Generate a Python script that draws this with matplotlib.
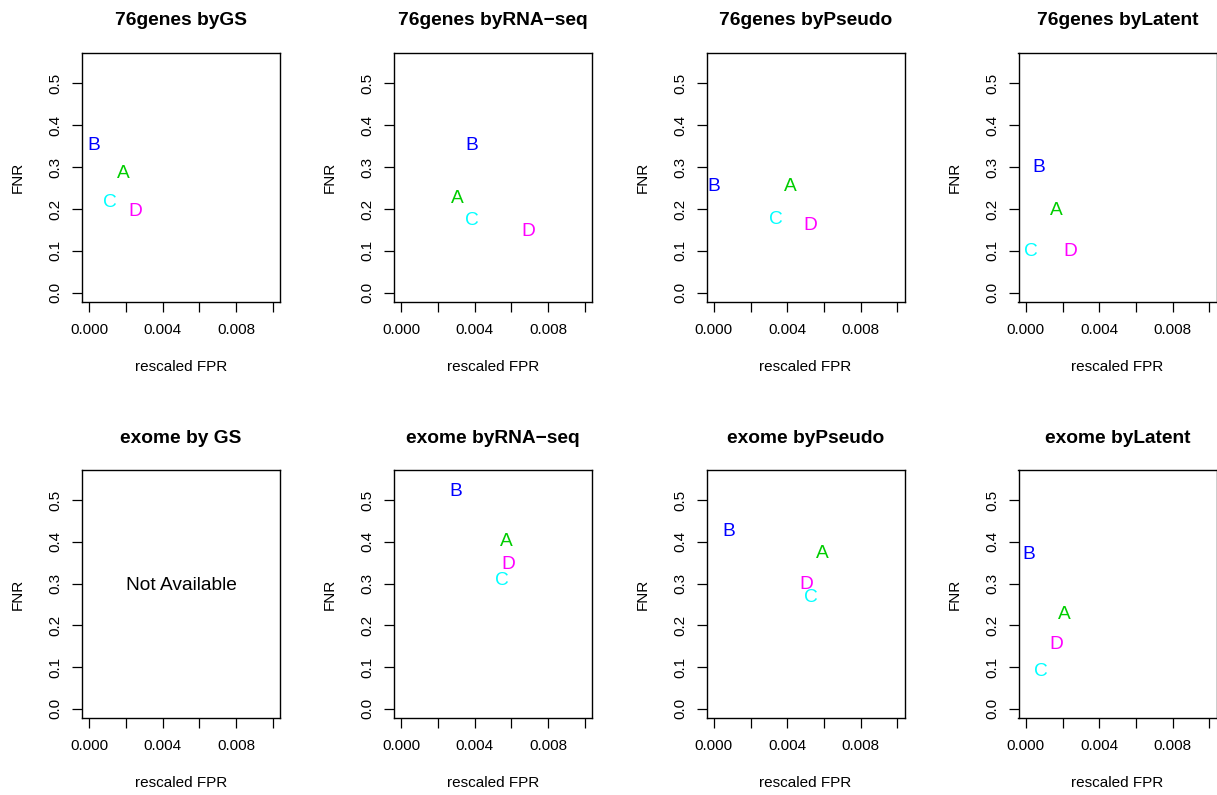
import matplotlib
matplotlib.use("Agg")
import matplotlib.pyplot as plt
import matplotlib.transforms as mtransforms

plt.rcParams['font.family'] = ['Liberation Sans', 'DejaVu Sans']

# ---- data ----
letters = ['A', 'B', 'C', 'D']
letter_colors = ['#00CD00', '#0000FF', '#00FFFF', '#FF00FF']

titles = ['76genes byGS', '76genes byRNA\u2212seq', '76genes byPseudo', '76genes byLatent',
          'exome by GS', 'exome byRNA\u2212seq', 'exome byPseudo', 'exome byLatent']

fpr_76_gs = [0.00185, 0.00022, 0.00114, 0.00250]
fnr_76_gs = [0.290, 0.358, 0.220, 0.200]
fpr_76_rna = [0.00308, 0.00385, 0.00384, 0.00694]
fnr_76_rna = [0.230, 0.357, 0.178, 0.153]
fpr_76_pseudo = [0.00420, 0.00000, 0.00340, 0.00525]
fnr_76_pseudo = [0.260, 0.260, 0.181, 0.166]
fpr_76_latent = [0.00164, 0.00071, 0.00029, 0.00242]
fnr_76_latent = [0.201, 0.305, 0.104, 0.104]
fpr_ex_gs = None
fnr_ex_gs = None
fpr_ex_rna = [0.00571, 0.00299, 0.00548, 0.00584]
fnr_ex_rna = [0.406, 0.526, 0.312, 0.352]
fpr_ex_pseudo = [0.00592, 0.00083, 0.00529, 0.00505]
fnr_ex_pseudo = [0.378, 0.430, 0.272, 0.304]
fpr_ex_latent = [0.00210, 0.00014, 0.00081, 0.00165]
fnr_ex_latent = [0.232, 0.376, 0.094, 0.160]

xs = [fpr_76_gs, fpr_76_rna, fpr_76_pseudo, fpr_76_latent,
      fpr_ex_gs, fpr_ex_rna, fpr_ex_pseudo, fpr_ex_latent]
ys = [fnr_76_gs, fnr_76_rna, fnr_76_pseudo, fnr_76_latent,
      fnr_ex_gs, fnr_ex_rna, fnr_ex_pseudo, fnr_ex_latent]

x_ticks = [0.000, 0.002, 0.004, 0.006, 0.008, 0.010]
x_ticklabels = ['0.000', '', '0.004', '', '0.008', '']
y_ticks = [0.0, 0.1, 0.2, 0.3, 0.4, 0.5]
y_ticklabels = ['0.0', '0.1', '0.2', '0.3', '0.4', '0.5']
na_text = 'Not Available'
na_pos = (0.005, 0.30)

# ---- layout ----
W, H = 1217, 795
fig = plt.figure(figsize=(W / 100, H / 100), dpi=100)

col_left = [82, 394, 706.5, 1018.5]
box_w = 198
row_top = [53, 470]
box_h = [249, 248]

FS = 11
LFS = 13.8
for i in range(8):
    r, c = divmod(i, 4)
    left = col_left[c] / W
    bottom = 1 - (row_top[r] + box_h[r]) / H
    ax = fig.add_axes([left, bottom, box_w / W, box_h[r] / H])
    ax.set_xlim(-0.0004, 0.0104)
    ax.set_ylim(-0.022, 0.572)
    ax.set_xticks(x_ticks)
    ax.set_xticklabels(x_ticklabels, fontsize=FS)
    ax.set_yticks(y_ticks)
    ax.set_yticklabels(y_ticklabels, fontsize=FS, rotation=90, va='center')
    ax.tick_params(direction='out', length=7, width=0.9, pad=8, colors='black')
    ax.tick_params(axis='y', pad=7)
    for s in ax.spines.values():
        s.set_linewidth(1.0)
    ax.set_title(titles[i], fontsize=13.8, fontweight='bold', pad=20.5 if r == 0 else 19.5)
    ax.set_xlabel('rescaled FPR', fontsize=FS, labelpad=17)
    ax.set_ylabel('FNR', fontsize=FS, labelpad=17)
    cap = 0.716 * LFS
    trans = mtransforms.offset_copy(ax.transData, fig=fig, x=0, y=-cap / 2, units='points')
    if xs[i] is None:
        ax.text(na_pos[0], na_pos[1], na_text, fontsize=LFS, ha='center', va='baseline', transform=trans)
    else:
        for lab, col, xv, yv in zip(letters, letter_colors, xs[i], ys[i]):
            ax.text(xv, yv, lab, color=col, fontsize=LFS, ha='center', va='baseline', transform=trans)

fig.savefig('out.png', dpi=100)
